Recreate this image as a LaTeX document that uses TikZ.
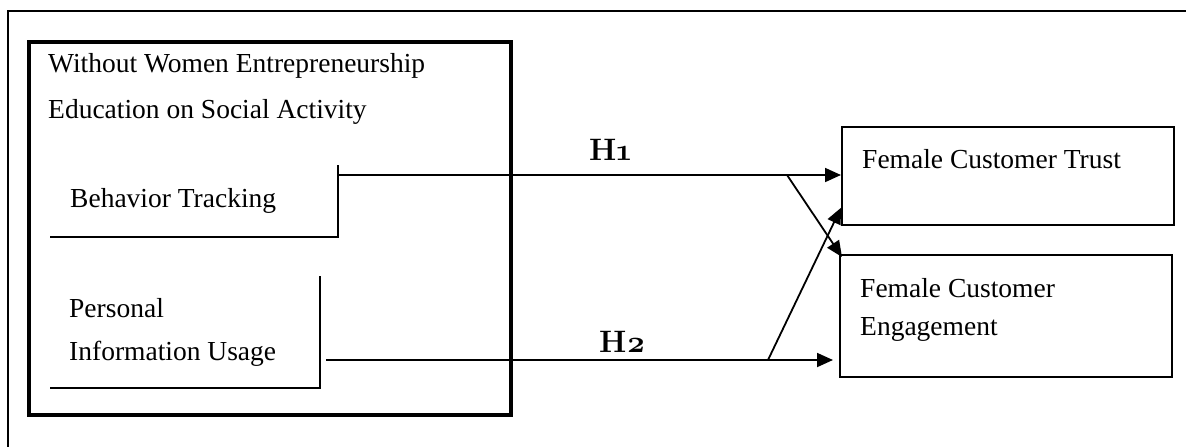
\documentclass[tikz,border=0pt]{standalone}
\usepackage{fontspec}
\setmainfont{Liberation Serif}
\newfontfamily\hypfont{Latin Modern Roman}[Numbers=OldStyle]
\usetikzlibrary{arrows.meta,calc}

\tikzset{
  txt/.style={anchor=base west, inner sep=0pt, align=left,
    font=\fontsize{27.5}{44}\selectfont},
  hyp/.style={anchor=base west, inner sep=0pt,
    font=\hypfont\bfseries\fontsize{31}{31}\selectfont},
  outbox/.style={draw, line width=1.8pt, inner sep=0pt, anchor=north west},
  bracket/.style={line width=1.8pt},
  conn/.style={line width=1.8pt, -{Triangle[length=16pt,width=14pt]}},
}

\begin{document}
\begin{tikzpicture}[x=1pt,y=-1pt]
  \useasboundingbox (0,0) rectangle (1186,447);
  % outer frame (cut off at right and bottom)
  \draw[line width=2.8pt] (1195,11) -- (8,11) -- (8,455);

  % left group
  \node[draw, line width=3.6pt, inner sep=0pt, anchor=north west,
    minimum width=482pt, minimum height=373pt] (grp) at (27,40) {};
  \node[txt] (ttl) at (48,118) {Without Women Entrepreneurship\\[2pt]Education on Social Activity};

  \node[txt] (bt) at (70,207) {Behavior Tracking};
  \draw[bracket] (50,237) -| (338,165);
  \coordinate (btout) at (338,175);

  \node[txt] (piu) at (69,360) {Personal\\[-1pt]Information Usage};
  \draw[bracket] (50,388) -| (320,276);
  \coordinate (piuout) at (326,360);

  % right boxes
  \node[outbox, minimum width=332pt, minimum height=98pt] (trust) at (841,126) {};
  \node[txt] (trustlbl) at (862,168) {Female Customer Trust};
  \node[outbox, minimum width=332pt, minimum height=122pt] (eng) at (839,254) {};
  \node[txt] (englbl) at (860,335) {Female Customer\\[-6pt]Engagement};

  % paths
  \draw[conn] (btout) -- (btout -| trust.west);
  \draw[conn] (piuout) -- ($(piuout -| eng.west)+(-6,0)$);
  \coordinate (cross1) at (787,175);
  \coordinate (cross2) at (768,360);
  \draw[conn] (cross1) -- ($(eng.north west)+(3,3)$);
  \draw[conn] (cross2) -- ($(trust.south west)+(0,-18)$);

  \node[hyp] (h1) at (589,160) {H1};
  \node[hyp] (h2) at (599,352) {H2};
\end{tikzpicture}
\end{document}
